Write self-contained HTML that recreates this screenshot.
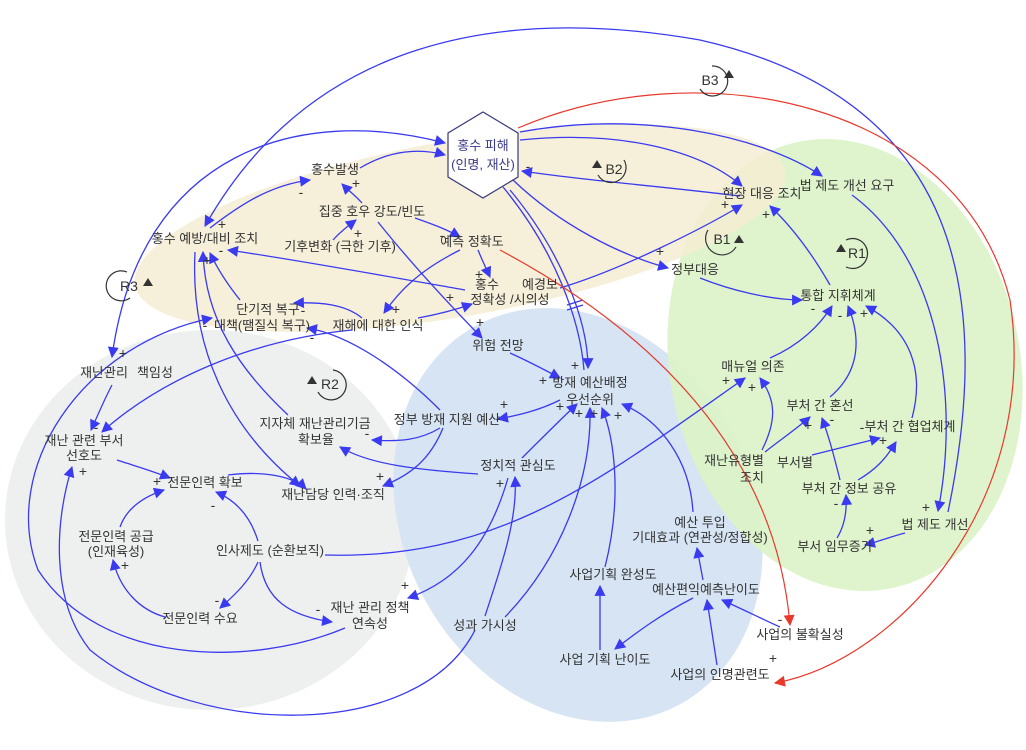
<!DOCTYPE html>
<html><head><meta charset="utf-8"><style>
html,body{margin:0;padding:0;background:#fff}
svg{display:block}
text{font-family:"Liberation Sans","Noto Sans CJK KR",sans-serif;font-size:13px;fill:#333;text-anchor:middle}
.s text{font-size:14px}
.e{fill:none;stroke:#3a3af0;stroke-width:1.3}
.r{fill:none;stroke:#e8392c;stroke-width:1.2}
.lp{fill:none;stroke:#333;stroke-width:1.2}
</style></head><body>
<svg width="1026" height="750" viewBox="0 0 1026 750" xmlns="http://www.w3.org/2000/svg">
<defs>
<marker id="a" viewBox="0 0 10 10" refX="9" refY="5" markerWidth="12" markerHeight="11" orient="auto-start-reverse" markerUnits="userSpaceOnUse"><path d="M0,0 L10,5 L0,10z" fill="#3a3af0"/></marker>
<marker id="ar" viewBox="0 0 10 10" refX="9" refY="5" markerWidth="12" markerHeight="11" orient="auto" markerUnits="userSpaceOnUse"><path d="M0,0 L10,5 L0,10z" fill="#e8392c"/></marker>
</defs>
<ellipse cx="210" cy="520" rx="205" ry="190" fill="#eef0f0"/>
<ellipse cx="578" cy="515" rx="175" ry="215" transform="rotate(-28 578 515)" fill="#d4e3f3" opacity="0.95"/>
<ellipse cx="845" cy="365" rx="175" ry="228" transform="rotate(-12 845 365)" fill="#dcf3c6" opacity="0.9"/>
<ellipse cx="460" cy="228" rx="330" ry="88" transform="rotate(-10 460 228)" fill="#f5ecd2" opacity="0.85"/>

<g class="e" marker-end="url(#a)">
<path d="M360,168 C390,150 420,148 445,155"/>
<path d="M210,228 C240,205 270,185 310,180"/>
<path d="M362,203 C356,196 348,190 342,184"/>
<path d="M333,240 C340,232 348,226 356,220"/>
<path d="M415,218 C435,225 448,230 460,237"/>
<path d="M378,222 C410,262 445,300 482,338"/>
<path d="M478,250 C482,260 486,268 490,277"/>
<path d="M460,250 C420,270 400,290 384,313"/>
<path d="M418,318 C440,314 455,310 472,304"/>
<path d="M362,318 C345,304 320,302 294,303"/>
<path d="M465,290 C380,275 285,258 228,250"/>
<path d="M240,300 C228,285 218,270 210,253"/>
<path d="M560,288 C620,270 700,230 742,205"/>
<path d="M520,140 C620,130 700,150 742,186"/>
<path d="M740,196 C650,185 580,180 522,171"/>
<path d="M520,132 C640,110 760,135 822,176"/>
<path d="M513,180 C560,225 620,255 668,268"/>
<path d="M700,278 C730,290 770,300 802,300"/>
<path d="M830,285 C810,250 790,225 770,206"/>
<path d="M510,190 C560,250 588,320 588,368"/>
<path d="M503,187 C555,250 580,320 584,370" marker-end="none"/>
<path d="M510,353 C530,362 545,370 560,378"/>
<path d="M560,400 C540,410 520,415 498,419"/>
<path d="M522,458 C540,440 560,420 577,404"/>
<path d="M505,617 C560,560 592,480 590,408"/>
<path d="M605,567 C622,500 615,440 602,408"/>
<path d="M693,512 C690,460 660,420 622,404"/>
<path d="M440,428 C420,440 400,442 372,440"/>
<path d="M443,428 C430,460 410,475 383,486"/>
<path d="M478,474 C420,470 370,465 340,447"/>
<path d="M508,478 C490,540 460,580 408,598"/>
<path d="M485,616 C500,570 518,520 515,477"/>
<path d="M325,555 C500,560 600,480 745,378"/>
<path d="M762,450 C777,420 776,400 760,378"/>
<path d="M765,452 C780,440 795,430 810,417"/>
<path d="M770,358 C800,345 820,325 832,306"/>
<path d="M830,397 C862,370 860,335 848,306"/>
<path d="M912,418 C925,370 910,330 866,306"/>
<path d="M812,455 C840,448 860,443 880,438"/>
<path d="M858,480 C875,470 885,460 896,442"/>
<path d="M840,480 C835,460 830,440 822,418"/>
<path d="M837,538 C845,525 847,510 846,495"/>
<path d="M905,533 C890,537 880,541 865,545"/>
<path d="M852,195 C940,260 960,400 938,511"/>
<path d="M948,512 C992,300 965,100 700,40 C500,5 310,40 205,226"/>
<path d="M445,143 C300,105 140,150 112,357" marker-start="url(#a)"/>
<path d="M112,385 C104,400 98,415 91,430"/>
<path d="M352,330 C250,340 160,380 102,432"/>
<path d="M345,628 C250,668 100,665 38,570 C0,470 80,345 212,318"/>
<path d="M117,460 C135,466 150,470 170,478"/>
<path d="M228,475 C268,470 295,478 306,489"/>
<path d="M258,541 C250,515 235,500 216,492"/>
<path d="M258,562 C250,580 237,593 220,608"/>
<path d="M260,562 C265,600 290,616 332,622"/>
<path d="M165,617 C140,610 120,590 113,560"/>
<path d="M120,527 C126,510 140,498 164,490"/>
<path d="M475,630 C420,740 200,740 90,650 C50,600 55,520 72,467"/>
<path d="M195,252 C190,350 230,430 300,486"/>
<path d="M288,415 C240,370 205,320 203,252"/>
<path d="M440,410 C400,370 350,335 307,328"/>
<path d="M600,650 L600,586"/>
<path d="M693,598 C660,615 640,630 615,649"/>
<path d="M703,580 L697,548"/>
<path d="M717,665 C713,640 710,620 707,600"/>
<path d="M780,627 C760,618 740,608 722,600"/>
</g>
<line x1="567" y1="305" x2="583" y2="300" stroke="#3a3af0" stroke-width="1.2"/>
<line x1="567" y1="310" x2="583" y2="305" stroke="#3a3af0" stroke-width="1.2"/>
<path class="r" marker-end="url(#ar)" d="M500,250 C650,330 775,450 790,625"/>
<path class="r" marker-end="url(#ar)" d="M518,128 C700,50 960,100 1010,300 C1040,500 900,660 775,683"/>

<polygon points="483,112 518,133 518,177 483,198 448,177 448,133" fill="#fff" stroke="#3a3a7a" stroke-width="1.2"/>
<text x="483" y="150" style="fill:#3a3a8a">홍수 피해</text>
<text x="483" y="169" style="fill:#3a3a8a">(인명, 재산)</text>

<g>
<text x="335" y="174">홍수발생</text>
<text x="372" y="216">집중 호우 강도/빈도</text>
<text x="340" y="251">기후변화 (극한 기후)</text>
<text x="472" y="246">예측 정확도</text>
<text x="205" y="243">홍수 예방/대비 조치</text>
<text x="487" y="289">홍수</text><text x="540" y="289">예경보</text>
<text x="510" y="304">정확성 /시의성</text>
<text x="268" y="314">단기적  복구</text>
<text x="262" y="330">대책(땜질식 복구)</text>
<text x="378" y="330">재해에 대한 인식</text>
<text x="498" y="350">위험 전망</text>
<text x="762" y="198">현장 대응 조치</text>
<text x="847" y="190">법 제도 개선 요구</text>
<text x="695" y="274">정부대응</text>
<text x="838" y="300">통합 지휘체계</text>
<text x="753" y="371">매뉴얼 의존</text>
<text x="820" y="410">부처 간 혼선</text>
<text x="910" y="431">부처 간 협업체계</text>
<text x="734" y="465">재난유형별</text><text x="752" y="482">조치</text>
<text x="795" y="467">부서별</text>
<text x="849" y="493">부처 간 정보 공유</text>
<text x="935" y="529">법 제도 개선</text>
<text x="835" y="551">부서 임무증가</text>
<text x="590" y="387">방재 예산배정</text>
<text x="590" y="404">우선순위</text>
<text x="447" y="424">정부 방재 지원 예산</text>
<text x="518" y="470">정치적 관심도</text>
<text x="700" y="527">예산 투입</text>
<text x="700" y="542">기대효과 (연관성/정합성)</text>
<text x="613" y="579">사업기획 완성도</text>
<text x="706" y="594">예산편익예측난이도</text>
<text x="800" y="639">사업의 불확실성</text>
<text x="605" y="664">사업 기획 난이도</text>
<text x="720" y="679">사업의 인명관련도</text>
<text x="485" y="630">성과 가시성</text>
<text x="104" y="377">재난관리</text><text x="155" y="377">책임성</text>
<text x="84" y="445">재난 관련 부서</text><text x="84" y="460">선호도</text>
<text x="315" y="428">지자체 재난관리기금</text><text x="316" y="444">확보율</text>
<text x="205" y="487">전문인력 확보</text>
<text x="333" y="499">재난담당 인력·조직</text>
<text x="116" y="541">전문인력 공급</text><text x="116" y="556">(인재육성)</text>
<text x="270" y="555">인사제도 (순환보직)</text>
<text x="200" y="623">전문인력 수요</text>
<text x="370" y="612">재난 관리 정책</text><text x="370" y="628">연속성</text>
</g>
<g class="s">
<text x="301" y="197">-</text><text x="356" y="188">+</text><text x="358" y="238">+</text>
<text x="442" y="240">-</text><text x="479" y="279">+</text><text x="396" y="314">+</text>
<text x="450" y="302">+</text><text x="303" y="315">-</text><text x="221" y="255">-</text>
<text x="222" y="229">+</text><text x="207" y="265">+</text><text x="528" y="171">-</text>
<text x="725" y="209">+</text><text x="660" y="256">+</text><text x="766" y="219">+</text>
<text x="480" y="327">+</text><text x="575" y="370">+</text><text x="543" y="385">+</text>
<text x="504" y="409">+</text><text x="498" y="423">-</text><text x="560" y="411">+</text>
<text x="579" y="418">+</text><text x="594" y="418">+</text><text x="618" y="420">+</text>
<text x="367" y="438">-</text><text x="380" y="481">+</text><text x="500" y="488">+</text>
<text x="405" y="590">+</text><text x="726" y="385">+</text><text x="752" y="392">+</text>
<text x="813" y="313">-</text><text x="840" y="320">-</text><text x="864" y="318">+</text>
<text x="808" y="430">+</text><text x="832" y="424">-</text><text x="862" y="432">-</text>
<text x="883" y="445">+</text><text x="836" y="508">-</text><text x="926" y="512">+</text>
<text x="870" y="535">+</text><text x="123" y="358">+</text><text x="96" y="432">-</text>
<text x="83" y="476">+</text><text x="157" y="486">+</text><text x="213" y="510">-</text>
<text x="125" y="570">+</text><text x="217" y="605">-</text><text x="318" y="614">-</text>
<text x="205" y="330">-</text><text x="312" y="342">-</text>
<text x="780" y="624">-</text><text x="773" y="663">+</text>
</g>
<g>
<path class="lp" d="M712,66 A15,15 0 1 1 700,89"/><path d="M724,78 l5,-8 l5,8z" fill="#333"/><text x="710" y="85" style="font-size:14px">B3</text>
<path class="lp" d="M624,160 A15,15 0 1 1 598,175"/><path d="M592,168 l5,-8 l5,8z" fill="#333"/><text x="614" y="174" style="font-size:14px">B2</text>
<path class="lp" d="M708,230 A15,15 0 1 0 736,247"/><path d="M734,243 l5,-8 l5,8z" fill="#333"/><text x="722" y="244" style="font-size:14px">B1</text>
<path class="lp" d="M846,240 A15,15 0 1 1 846,267"/><path d="M836,252 l5,-8 l5,8z" fill="#333"/><text x="857" y="258" style="font-size:14px">R1</text>
<path class="lp" d="M333,370 A15,15 0 1 1 318,392"/><path d="M307,384 l5,-8 l5,8z" fill="#333"/><text x="330" y="389" style="font-size:14px">R2</text>
<path class="lp" d="M127,272 A15,15 0 1 0 130,298"/><path d="M143,286 l5,-8 l5,8z" fill="#333"/><text x="129" y="291" style="font-size:14px">R3</text>
</g>
</svg>
</body></html>
